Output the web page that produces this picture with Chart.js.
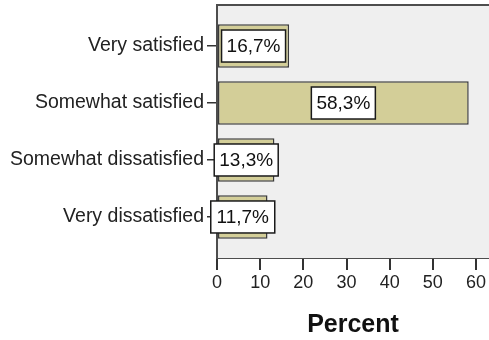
<!DOCTYPE html>
<html>
<head>
<meta charset="utf-8">
<script src="https://cdn.jsdelivr.net/npm/chart.js@4"></script>
<style>
  html, body { margin: 0; padding: 0; background: #ffffff; }
  #wrap { width: 489px; height: 340px; }
</style>
</head>
<body>
<div id="wrap"><canvas id="myChart" width="489" height="340"></canvas></div>
<script>
const categories = ["Very satisfied", "Somewhat satisfied", "Somewhat dissatisfied", "Very dissatisfied"];
const percents = [16.7, 58.3, 13.3, 11.7];
const xTicks = [0, 10, 20, 30, 40, 50, 60];

// plot panel background + frame (SPSS style)
const panelPlugin = {
    id: 'panel',
    beforeDatasetsDraw(chart) {
        const a = chart.chartArea;
        const c = chart.ctx;
        c.save();
        c.fillStyle = '#efefef';
        c.fillRect(a.left, a.top, a.right - a.left, a.bottom - a.top);
        c.strokeStyle = '#4d4d4d';
        c.lineWidth = 2;
        c.beginPath();
        c.moveTo(a.right + 2, a.top);
        c.lineTo(a.left, a.top);
        c.lineTo(a.left, a.bottom);
        c.stroke();
        c.restore();
    }
};

// white boxed value labels in the middle of each bar
const boxLabels = {
    id: 'boxLabels',
    afterDatasetsDraw(chart) {
        const c = chart.ctx;
        const meta = chart.getDatasetMeta(0);
        c.save();
        c.font = '19px "Liberation Sans", Arial, sans-serif';
        c.textAlign = 'center';
        c.textBaseline = 'middle';
        meta.data.forEach((bar, i) => {
            const cx = (bar.x + bar.base) / 2;
            const cy = bar.y;
            const w = 64, h = 32;
            c.fillStyle = '#ffffff';
            c.fillRect(cx - w / 2, cy - h / 2, w, h);
            c.strokeStyle = '#1a1a1a';
            c.lineWidth = 1.5;
            c.strokeRect(cx - w / 2, cy - h / 2, w, h);
            c.fillStyle = '#111111';
            c.fillText(percents[i].toFixed(1).replace('.', ',') + '%', cx, cy + 1);
        });
        c.restore();
    }
};

const ctx = document.getElementById('myChart');
const myChart = new Chart(ctx, {
    type: 'bar',
    data: {
        datasets: [{
            data: percents.map((v, i) => ({ x: v, y: i })),
            backgroundColor: '#d3ce98',
            borderColor: '#3a3a3a',
            borderWidth: 1.5,
            borderSkipped: false,
            categoryPercentage: 1,
            barPercentage: 0.76
        }]
    },
    options: {
        indexAxis: 'y',
        responsive: false,
        animation: false,
        layout: { padding: { top: 5, right: 0, left: 0, bottom: 0 } },
        plugins: {
            legend: { display: false },
            tooltip: { enabled: false }
        },
        scales: {
            x: {
                type: 'linear',
                min: 0,
                max: 63,
                afterFit(scale) { scale.height = 82; },
                afterBuildTicks(scale) { scale.ticks = xTicks.map(v => ({ value: v })); },
                ticks: {
                    color: '#222222',
                    font: { family: '"Liberation Sans", Arial, sans-serif', size: 18 },
                    padding: 2
                },
                grid: { drawOnChartArea: false, tickLength: 12, color: '#333333', lineWidth: 2 },
                border: { display: true, color: '#4d4d4d', width: 2 },
                title: {
                    display: true,
                    text: 'Percent',
                    color: '#111111',
                    font: { family: '"Liberation Sans", Arial, sans-serif', size: 25, weight: 'bold' },
                    padding: { top: 4, bottom: 0 }
                }
            },
            y: {
                type: 'linear',
                offset: false,
                reverse: true,
                min: -0.72,
                max: 3.72,
                afterFit(scale) {
                    scale.width = 217;
                    scale.paddingTop = 0;
                    scale.paddingBottom = 0;
                },
                afterBuildTicks(scale) { scale.ticks = categories.map((c, i) => ({ value: i })); },
                ticks: {
                    color: '#222222',
                    font: { family: '"Liberation Sans", Arial, sans-serif', size: 19.5 },
                    padding: 3,
                    callback: (v) => categories[v]
                },
                grid: { offset: false, drawOnChartArea: false, tickLength: 10, color: '#333333', lineWidth: 1.5 },
                border: { display: true, color: '#4d4d4d', width: 2 }
            }
        }
    },
    plugins: [panelPlugin, boxLabels]
});
</script>
</body>
</html>
